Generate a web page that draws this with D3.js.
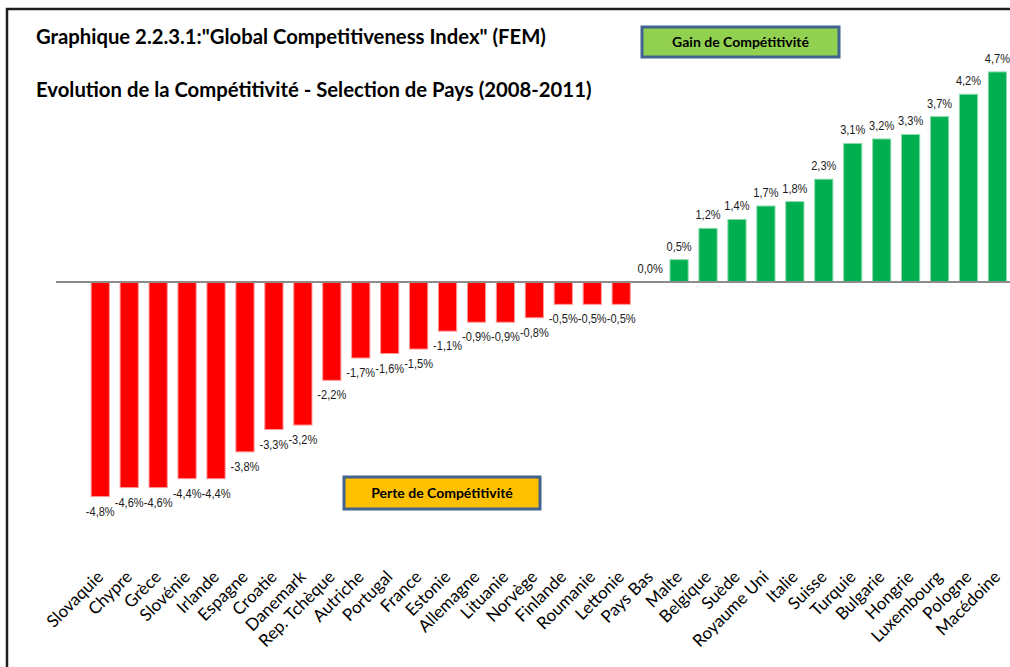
<!DOCTYPE html>
<html>
<head>
<meta charset="utf-8">
<script src="https://cdn.jsdelivr.net/npm/d3@7"></script>
<style>
  body { margin: 0; background: #fff; }
  svg { display: block; }
</style>
</head>
<body>
<svg id="chart" width="1010" height="667"></svg>
<script>
//  data
const countries = ["Slovaquie", "Chypre", "Grèce", "Slovénie", "Irlande", "Espagne", "Croatie",
  "Danemark", "Rep. Tchèque", "Autriche", "Portugal", "France", "Estonie", "Allemagne",
  "Lituanie", "Norvège", "Finlande", "Roumanie", "Lettonie", "Pays Bas", "Malte", "Belgique",
  "Suède", "Royaume Uni", "Italie", "Suisse", "Turquie", "Bulgarie", "Hongrie", "Luxembourg",
  "Pologne", "Macédoine"];
const evolution = [-4.8, -4.6, -4.6, -4.4, -4.4, -3.8, -3.3, -3.2, -2.2, -1.7, -1.6, -1.5,
  -1.1, -0.9, -0.9, -0.8, -0.5, -0.5, -0.5, 0.0, 0.5, 1.2, 1.4, 1.7, 1.8, 2.3, 3.1, 3.2, 3.3,
  3.7, 4.2, 4.7];
const titles = ["Graphique 2.2.3.1:\"Global Competitiveness Index\" (FEM)",
  "Evolution de la Compétitivité - Selection de Pays (2008-2011)"];
const legendGain = "Gain de Compétitivité",
      legendPerte = "Perte de Compétitivité";

const data = countries.map((c, i) => ({ pays: c, v: evolution[i] }));

//  svg
const svg = d3.select("#chart"),
      width = +svg.attr("width"),
      height = +svg.attr("height");

const fr = d3.formatLocale({ decimal: ",", thousands: " ", grouping: [3], currency: ["", "€"], minus: "-" });
const fmt = v => fr.format(".1f")(v) + "%";

const labelFont = "'Liberation Sans', Arial, sans-serif";
const textFont = "Lato, 'Open Sans', sans-serif";

//  scales
const x = d3.scaleBand()
  .domain(countries)
  .range([85.8, 1011.9])
  .paddingInner(0.37)
  .paddingOuter(0.185);

const y = d3.scaleLinear()
  .domain([-6, 5])
  .range([550.2, 58.5]);

//  frame
svg.append("rect")
  .attr("x", 7).attr("y", 9)
  .attr("width", 1100).attr("height", 800)
  .attr("fill", "none")
  .attr("stroke", "#1e1e1e")
  .attr("stroke-width", 2.5);

//  bars
svg.append("g").selectAll("rect")
  .data(data)
  .enter().append("rect")
  .attr("x", d => x(d.pays))
  .attr("width", x.bandwidth())
  .attr("y", d => y(Math.max(0, d.v)))
  .attr("height", d => Math.abs(y(d.v) - y(0)))
  .attr("fill", d => d.v < 0 ? "#ff0000" : "#00b050")
  .attr("stroke", d => d.v < 0 ? "#ff9a9a" : "#8fdcae")
  .attr("stroke-width", 1);

//  zero axis
svg.append("line")
  .attr("x1", 56).attr("x2", width)
  .attr("y1", y(0)).attr("y2", y(0))
  .attr("stroke", "#8c8c8c")
  .attr("stroke-width", 2);

//  value labels (narrow look: squeeze horizontally)
svg.append("g").selectAll("text")
  .data(data)
  .enter().append("text")
  .attr("transform", d => "translate(" + (x(d.pays) + x.bandwidth() / 2) + "," +
    (d.v < 0 ? y(d.v) + 19 : y(d.v) - 9) + ") scale(0.82,1)")
  .attr("text-anchor", "middle")
  .style("font-family", labelFont)
  .style("font-size", "13.5px")
  .attr("fill", "#1a1a1a")
  .text(d => fmt(d.v));

//  category labels
svg.append("g").selectAll("text")
  .data(data)
  .enter().append("text")
  .attr("transform", d => "translate(" + (x(d.pays) + x.bandwidth() / 2 + 4) + ",578) rotate(-45)")
  .attr("text-anchor", "end")
  .style("font-family", textFont)
  .style("font-size", "17px")
  .attr("fill", "#000")
  .text(d => d.pays);

//  titles
svg.append("g").selectAll("text")
  .data(titles)
  .enter().append("text")
  .attr("x", 36)
  .attr("y", (d, i) => i === 0 ? 44 : 97)
  .style("font-family", textFont)
  .style("font-weight", "bold")
  .style("font-size", "20.3px")
  .attr("fill", "#000")
  .text(d => d);

//  legend boxes
function box(x0, y0, w, h, fill, label) {
  const g = svg.append("g");
  g.append("rect")
    .attr("x", x0).attr("y", y0)
    .attr("width", w).attr("height", h)
    .attr("fill", fill)
    .attr("stroke", "#41638f")
    .attr("stroke-width", 3);
  g.append("text")
    .attr("x", x0 + w / 2).attr("y", y0 + h / 2 + 5)
    .attr("text-anchor", "middle")
    .style("font-family", textFont)
    .style("font-weight", "bold")
    .style("font-size", "14px")
    .attr("fill", "#000")
    .text(label);
}

box(642, 27, 197, 30, "#92d050", legendGain);
box(344, 477, 196, 32, "#ffc000", legendPerte);
</script>
</body>
</html>
